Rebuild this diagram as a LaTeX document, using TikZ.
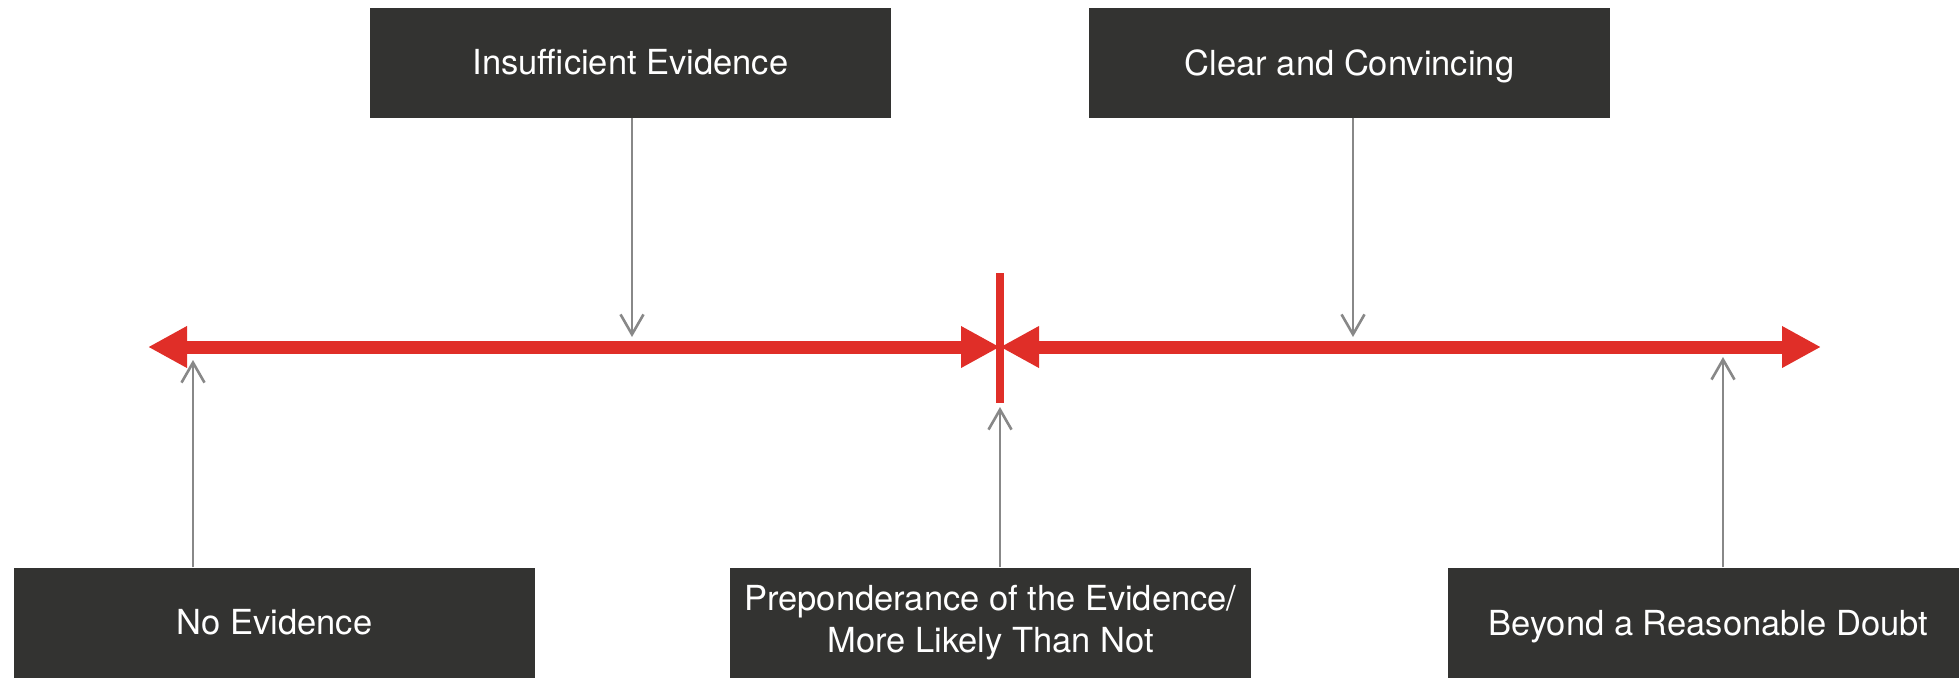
\documentclass[tikz,border=0pt]{standalone}
\usepackage{fontspec}
\setmainfont{TeX Gyre Heros}
\usetikzlibrary{arrows.meta}
\definecolor{boxgray}{RGB}{51,51,49}
\definecolor{linered}{RGB}{224,46,40}
\definecolor{arrowgray}{RGB}{136,136,136}
\tikzset{
  labelbox/.style={fill=boxgray, text=white, minimum width=521pt, minimum height=110pt,
    inner sep=0pt, align=center, font=\fontsize{34.5pt}{42pt}\selectfont},
  scaleline/.style={draw=linered, line width=13pt,
    {Triangle[length=39pt,width=39pt]}-{Triangle[length=39pt,width=39pt]}},
  pointer/.style={draw=arrowgray, line width=2.6pt, -{Straight Barb[length=20pt,width=23pt]}}
}
\begin{document}
\begin{tikzpicture}[x=1pt,y=-1pt]
\useasboundingbox (0,0) rectangle (1959,678);
% boxes
\node[labelbox] (ins) at (630.5,62.5) {Insufficient Evidence};
\node[labelbox, text depth=0pt] (clr) at (1349.5,62.5) {Clear and Convincing};
\node[labelbox] (noe) at (274.5,622.5) {No Evidence};
\node[labelbox] (pre) at (990.5,622.5) {\raisebox{-3pt}{\parbox{521pt}{\centering Preponderance of the Evidence/\\More Likely Than Not}}};
\node[labelbox, text depth=0pt] (bey) at (1708.5,622.5) {Beyond a Reasonable Doubt};
% scale line
\coordinate (L) at (148,347);
\coordinate (M) at (1000,347);
\coordinate (R) at (1821,347);
\coordinate (Mtop) at (1000,273);
\coordinate (Mbot) at (1000,403);
\draw[scaleline] (M) -- (L);
\draw[scaleline] (M) -- (R);
\draw[draw=linered, line width=8pt] (Mtop) -- (Mbot);
% pointer tips
\coordinate (tins) at (632,337);
\coordinate (tclr) at (1353,337);
\coordinate (tnoe) at (193,360);
\coordinate (tpre) at (1000,407);
\coordinate (tbey) at (1723,357);
\draw[pointer] (ins.south -| tins) -- (tins);
\draw[pointer] (clr.south -| tclr) -- (tclr);
\draw[pointer] (noe.north -| tnoe) -- (tnoe);
\draw[pointer] (pre.north -| tpre) -- (tpre);
\draw[pointer] (bey.north -| tbey) -- (tbey);
\end{tikzpicture}
\end{document}
